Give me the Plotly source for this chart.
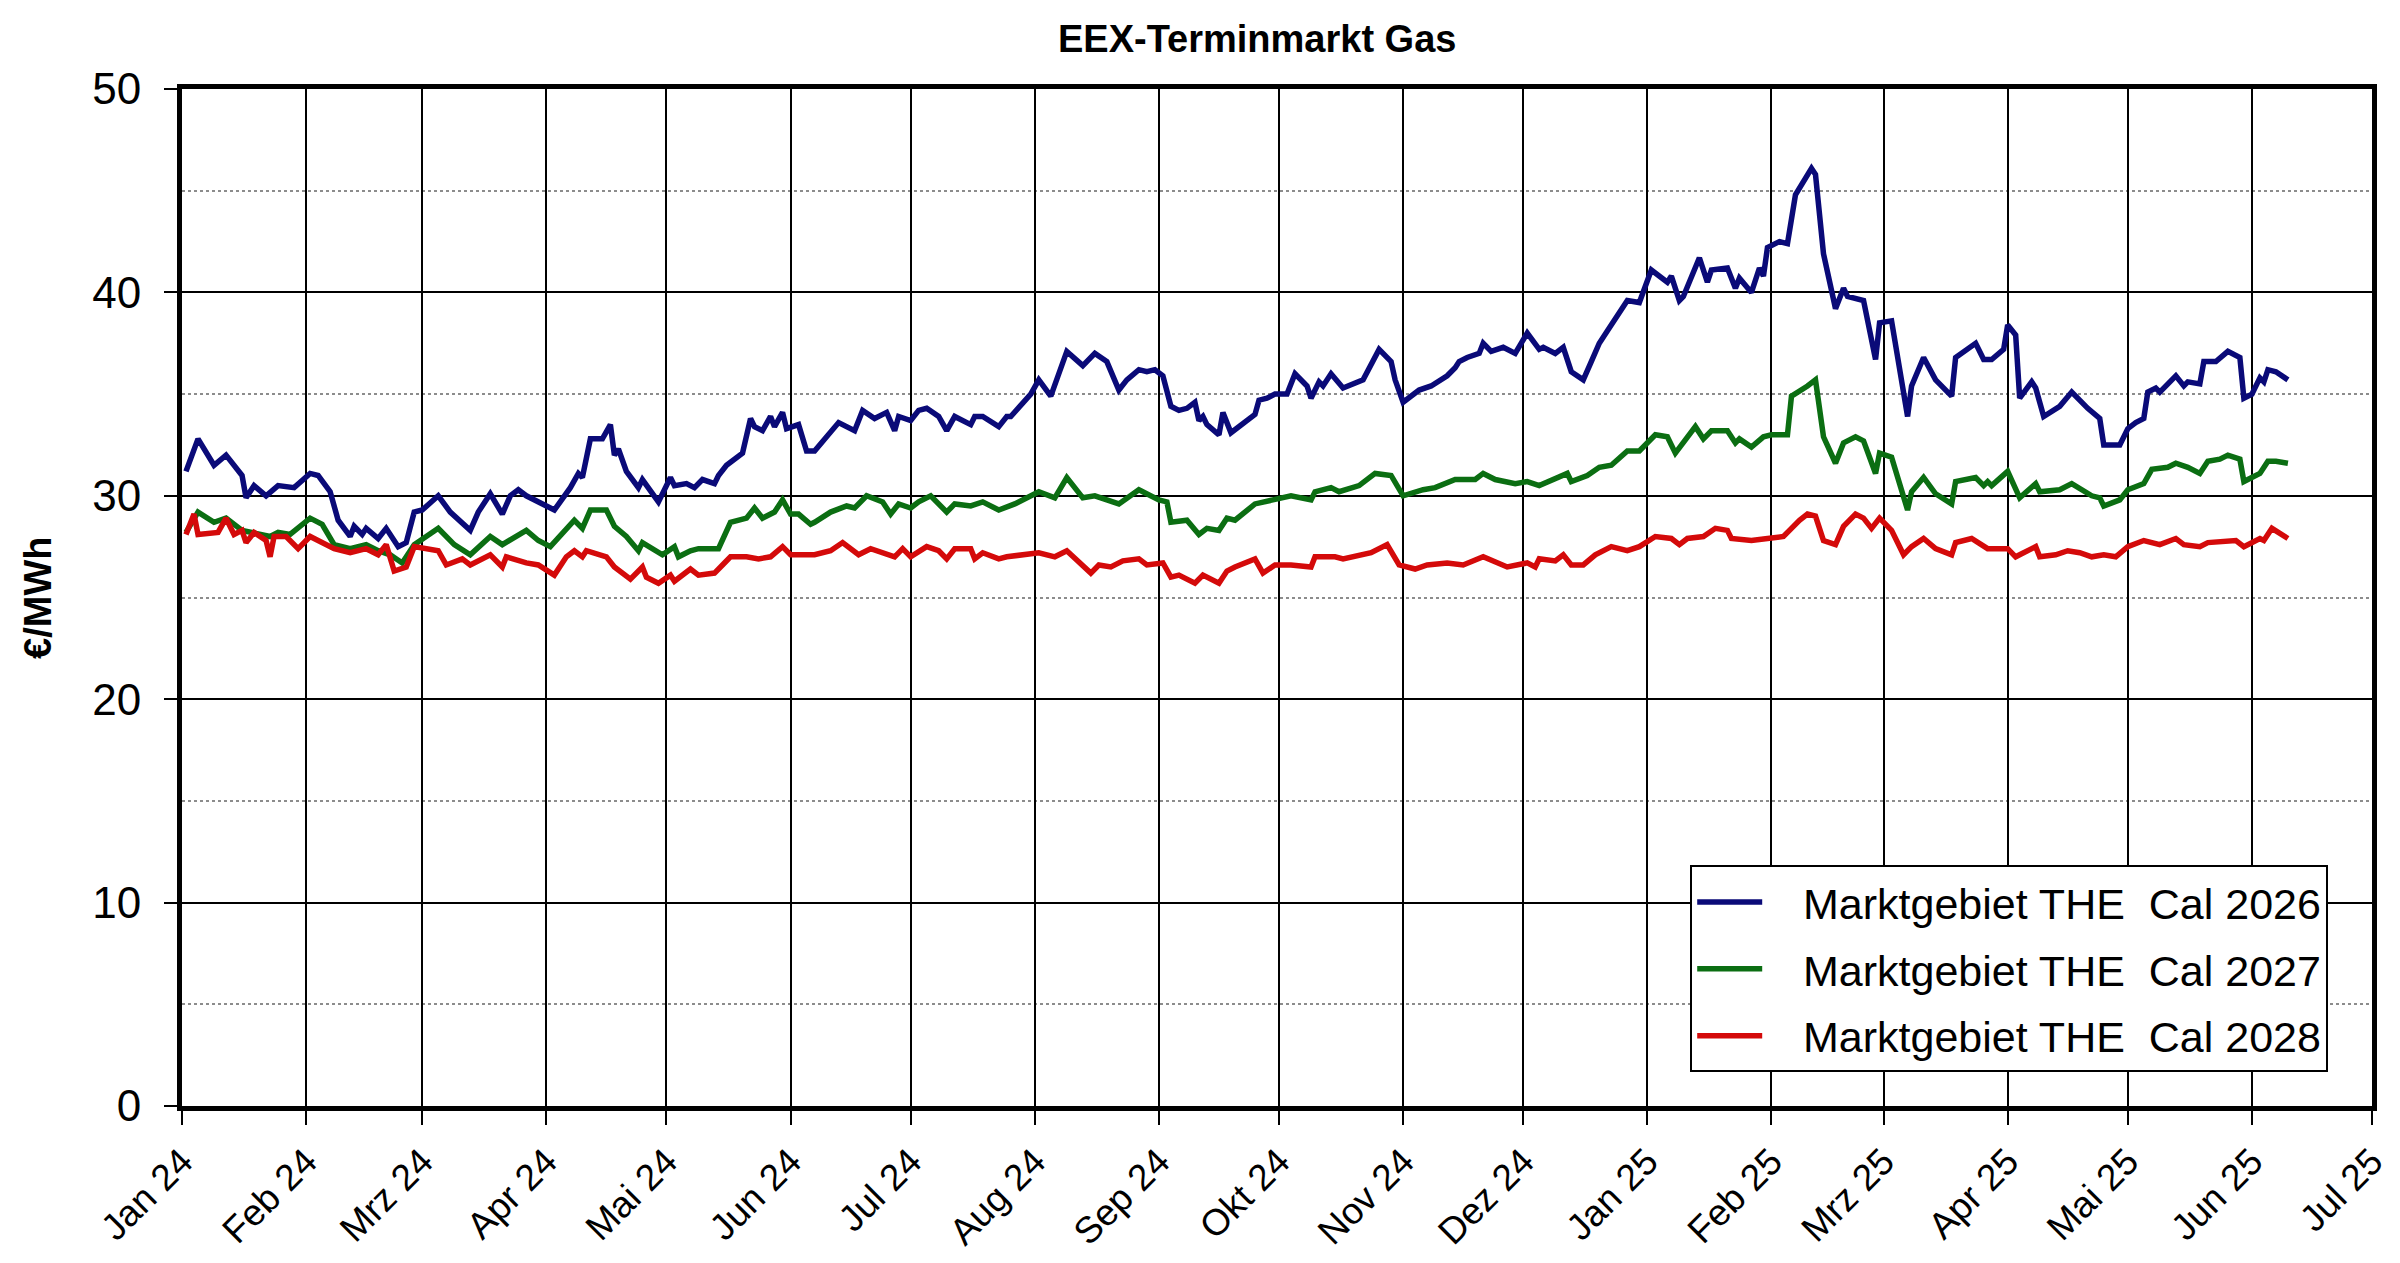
import plotly.graph_objects as go

# monthly axis (German month abbreviations as on the original sheet)
month_starts = ["2024-01-01", "2024-02-01", "2024-03-01", "2024-04-01", "2024-05-01",
                "2024-06-01", "2024-07-01", "2024-08-01", "2024-09-01", "2024-10-01",
                "2024-11-01", "2024-12-01", "2025-01-01", "2025-02-01", "2025-03-01",
                "2025-04-01", "2025-05-01", "2025-06-01", "2025-07-01"]
month_labels = ["Jan 24", "Feb 24", "Mrz 24", "Apr 24", "Mai 24", "Jun 24", "Jul 24",
                "Aug 24", "Sep 24", "Okt 24", "Nov 24", "Dez 24", "Jan 25", "Feb 25",
                "Mrz 25", "Apr 25", "Mai 25", "Jun 25", "Jul 25"]

# Marktgebiet THE Cal 2026 (EUR/MWh)
cal26_dates = [
    "2024-01-02", "2024-01-05", "2024-01-09", "2024-01-12", "2024-01-16", "2024-01-17",
    "2024-01-19", "2024-01-22", "2024-01-25", "2024-01-29", "2024-02-02", "2024-02-04",
    "2024-02-07", "2024-02-09", "2024-02-12", "2024-02-13", "2024-02-15", "2024-02-16",
    "2024-02-19", "2024-02-21", "2024-02-24", "2024-02-26", "2024-02-28", "2024-03-01",
    "2024-03-05", "2024-03-08", "2024-03-13", "2024-03-15", "2024-03-18", "2024-03-21",
    "2024-03-23", "2024-03-25", "2024-03-27", "2024-03-30", "2024-04-03", "2024-04-07",
    "2024-04-09", "2024-04-10", "2024-04-12", "2024-04-15", "2024-04-17", "2024-04-18",
    "2024-04-19", "2024-04-21", "2024-04-24", "2024-04-25", "2024-04-27", "2024-04-29",
    "2024-05-02", "2024-05-03", "2024-05-06", "2024-05-08", "2024-05-10", "2024-05-13",
    "2024-05-14", "2024-05-16", "2024-05-20", "2024-05-22", "2024-05-23", "2024-05-25",
    "2024-05-27", "2024-05-28", "2024-05-30", "2024-05-31", "2024-06-03", "2024-06-05",
    "2024-06-07", "2024-06-10", "2024-06-13", "2024-06-17", "2024-06-19", "2024-06-22",
    "2024-06-25", "2024-06-27", "2024-06-28", "2024-07-01", "2024-07-03", "2024-07-05",
    "2024-07-08", "2024-07-10", "2024-07-12", "2024-07-16", "2024-07-17", "2024-07-19",
    "2024-07-23", "2024-07-25", "2024-07-26", "2024-07-31", "2024-08-02", "2024-08-05",
    "2024-08-09", "2024-08-13", "2024-08-16", "2024-08-19", "2024-08-22", "2024-08-24",
    "2024-08-27", "2024-08-29", "2024-08-31", "2024-09-02", "2024-09-04", "2024-09-06",
    "2024-09-08", "2024-09-10", "2024-09-11", "2024-09-12", "2024-09-13", "2024-09-16",
    "2024-09-17", "2024-09-19", "2024-09-21", "2024-09-25", "2024-09-26", "2024-09-28",
    "2024-09-30", "2024-10-03", "2024-10-05", "2024-10-08", "2024-10-09", "2024-10-11",
    "2024-10-12", "2024-10-14", "2024-10-17", "2024-10-20", "2024-10-22", "2024-10-26",
    "2024-10-29", "2024-10-30", "2024-10-31", "2024-11-01", "2024-11-05", "2024-11-08",
    "2024-11-12", "2024-11-14", "2024-11-15", "2024-11-17", "2024-11-20", "2024-11-21",
    "2024-11-23", "2024-11-26", "2024-11-29", "2024-12-02", "2024-12-05", "2024-12-06",
    "2024-12-09", "2024-12-11", "2024-12-13", "2024-12-16", "2024-12-18", "2024-12-20",
    "2024-12-22", "2024-12-27", "2024-12-30", "2025-01-02", "2025-01-06", "2025-01-07",
    "2025-01-09", "2025-01-10", "2025-01-14", "2025-01-16", "2025-01-17", "2025-01-21",
    "2025-01-23", "2025-01-24", "2025-01-27", "2025-01-29", "2025-01-30", "2025-01-31",
    "2025-02-03", "2025-02-05", "2025-02-07", "2025-02-11", "2025-02-12", "2025-02-14",
    "2025-02-17", "2025-02-19", "2025-02-20", "2025-02-24", "2025-02-27", "2025-02-28",
    "2025-03-03", "2025-03-07", "2025-03-08", "2025-03-11", "2025-03-14", "2025-03-18",
    "2025-03-19", "2025-03-24", "2025-03-26", "2025-03-28", "2025-03-31", "2025-04-01",
    "2025-04-03", "2025-04-04", "2025-04-07", "2025-04-08", "2025-04-10", "2025-04-14",
    "2025-04-17", "2025-04-21", "2025-04-24", "2025-04-25", "2025-04-29", "2025-05-01",
    "2025-05-03", "2025-05-05", "2025-05-06", "2025-05-08", "2025-05-09", "2025-05-13",
    "2025-05-15", "2025-05-16", "2025-05-19", "2025-05-20", "2025-05-23", "2025-05-26",
    "2025-05-29", "2025-05-30", "2025-06-01", "2025-06-03", "2025-06-04", "2025-06-05",
    "2025-06-07", "2025-06-10"]
cal26_vals = [
    31.2, 32.8, 31.5, 32.0, 31.0, 29.9, 30.5, 30.0, 30.5, 30.4, 31.1, 31.0,
    30.2, 28.8, 28.0, 28.5, 28.1, 28.4, 27.9, 28.4, 27.5, 27.7, 29.2, 29.3,
    30.0, 29.2, 28.3, 29.2, 30.1, 29.1, 30.0, 30.3, 30.0, 29.7, 29.3, 30.4,
    31.1, 30.9, 32.8, 32.8, 33.5, 32.0, 32.3, 31.2, 30.4, 30.8, 30.2, 29.7,
    30.9, 30.5, 30.6, 30.4, 30.8, 30.6, 31.0, 31.5, 32.1, 33.8, 33.4, 33.2,
    33.9, 33.4, 34.1, 33.3, 33.5, 32.2, 32.2, 32.9, 33.6, 33.2, 34.2, 33.8,
    34.1, 33.2, 33.9, 33.7, 34.2, 34.3, 33.9, 33.2, 33.9, 33.5, 33.9, 33.9,
    33.4, 33.9, 33.9, 35.0, 35.7, 34.9, 37.1, 36.4, 37.0, 36.6, 35.2, 35.7,
    36.2, 36.1, 36.2, 35.9, 34.4, 34.2, 34.3, 34.6, 33.7, 33.9, 33.5, 33.0,
    34.1, 33.1, 33.4, 34.0, 34.7, 34.8, 35.0, 35.0, 36.0, 35.4, 34.8, 35.6,
    35.4, 36.0, 35.3, 35.5, 35.7, 37.2, 36.6, 35.7, 35.2, 34.6, 35.2, 35.4,
    35.9, 36.3, 36.6, 36.8, 37.0, 37.5, 37.1, 37.3, 37.0, 38.0, 37.2, 37.3,
    37.0, 37.3, 36.1, 35.7, 36.6, 37.5, 38.1, 39.6, 39.5, 41.1, 40.5, 40.8,
    39.6, 39.8, 41.7, 40.5, 41.1, 41.2, 40.2, 40.7, 40.0, 41.2, 40.8, 42.2,
    42.5, 42.4, 44.8, 46.1, 45.8, 41.9, 39.2, 40.2, 39.8, 39.6, 36.7, 38.5,
    38.6, 33.9, 35.4, 36.8, 35.7, 34.9, 36.8, 37.5, 36.7, 36.7, 37.2, 38.4,
    37.9, 34.8, 35.6, 35.3, 33.9, 34.4, 35.1, 34.3, 33.8, 32.5, 32.5, 33.3,
    33.6, 33.8, 35.1, 35.3, 35.1, 35.9, 35.4, 35.6, 35.5, 36.6, 36.6, 37.1,
    36.8, 34.8, 35.0, 35.8, 35.6, 36.2, 36.1, 35.7]

# Marktgebiet THE Cal 2027 (EUR/MWh)
cal27_dates = [
    "2024-01-02", "2024-01-05", "2024-01-09", "2024-01-12", "2024-01-16", "2024-01-20",
    "2024-01-23", "2024-01-25", "2024-01-28", "2024-02-02", "2024-02-05", "2024-02-08",
    "2024-02-12", "2024-02-16", "2024-02-19", "2024-02-22", "2024-02-25", "2024-02-28",
    "2024-03-05", "2024-03-09", "2024-03-13", "2024-03-18", "2024-03-21", "2024-03-27",
    "2024-03-30", "2024-04-02", "2024-04-06", "2024-04-08", "2024-04-10", "2024-04-12",
    "2024-04-16", "2024-04-18", "2024-04-21", "2024-04-24", "2024-04-25", "2024-04-30",
    "2024-05-03", "2024-05-04", "2024-05-07", "2024-05-09", "2024-05-14", "2024-05-17",
    "2024-05-21", "2024-05-23", "2024-05-25", "2024-05-28", "2024-05-30", "2024-06-01",
    "2024-06-03", "2024-06-06", "2024-06-07", "2024-06-11", "2024-06-15", "2024-06-17",
    "2024-06-20", "2024-06-24", "2024-06-26", "2024-06-28", "2024-07-01", "2024-07-03",
    "2024-07-06", "2024-07-10", "2024-07-12", "2024-07-16", "2024-07-19", "2024-07-23",
    "2024-07-27", "2024-08-02", "2024-08-06", "2024-08-09", "2024-08-13", "2024-08-16",
    "2024-08-19", "2024-08-22", "2024-08-27", "2024-09-01", "2024-09-03", "2024-09-04",
    "2024-09-08", "2024-09-11", "2024-09-13", "2024-09-16", "2024-09-18", "2024-09-20",
    "2024-09-25", "2024-09-30", "2024-10-04", "2024-10-09", "2024-10-10", "2024-10-14",
    "2024-10-16", "2024-10-21", "2024-10-25", "2024-10-29", "2024-11-01", "2024-11-06",
    "2024-11-09", "2024-11-14", "2024-11-19", "2024-11-21", "2024-11-24", "2024-11-29",
    "2024-12-02", "2024-12-05", "2024-12-12", "2024-12-13", "2024-12-17", "2024-12-20",
    "2024-12-23", "2024-12-27", "2024-12-30", "2025-01-03", "2025-01-06", "2025-01-08",
    "2025-01-13", "2025-01-15", "2025-01-17", "2025-01-21", "2025-01-23", "2025-01-24",
    "2025-01-27", "2025-01-30", "2025-02-01", "2025-02-05", "2025-02-06", "2025-02-10",
    "2025-02-12", "2025-02-14", "2025-02-17", "2025-02-19", "2025-02-22", "2025-02-24",
    "2025-02-27", "2025-02-28", "2025-03-03", "2025-03-07", "2025-03-08", "2025-03-11",
    "2025-03-14", "2025-03-18", "2025-03-19", "2025-03-24", "2025-03-26", "2025-03-27",
    "2025-03-28", "2025-04-01", "2025-04-04", "2025-04-08", "2025-04-09", "2025-04-14",
    "2025-04-17", "2025-04-22", "2025-04-24", "2025-04-25", "2025-04-29", "2025-05-01",
    "2025-05-05", "2025-05-07", "2025-05-11", "2025-05-13", "2025-05-16", "2025-05-19",
    "2025-05-21", "2025-05-24", "2025-05-26", "2025-05-29", "2025-05-30", "2025-06-03",
    "2025-06-05", "2025-06-07", "2025-06-10"]
cal27_vals = [
    28.2, 29.2, 28.7, 28.9, 28.3, 28.1, 28.0, 28.2, 28.1, 28.9, 28.6, 27.6,
    27.4, 27.6, 27.3, 27.1, 26.7, 27.6, 28.4, 27.6, 27.1, 28.0, 27.6, 28.3,
    27.8, 27.5, 28.4, 28.8, 28.4, 29.3, 29.3, 28.5, 28.0, 27.3, 27.7, 27.1,
    27.5, 27.0, 27.3, 27.4, 27.4, 28.7, 28.9, 29.4, 28.9, 29.2, 29.8, 29.1,
    29.1, 28.6, 28.7, 29.2, 29.5, 29.4, 30.0, 29.7, 29.1, 29.6, 29.4, 29.7,
    30.0, 29.2, 29.6, 29.5, 29.7, 29.3, 29.6, 30.2, 29.9, 30.9, 29.9, 30.0,
    29.8, 29.6, 30.3, 29.8, 29.7, 28.7, 28.8, 28.1, 28.4, 28.3, 28.9, 28.8,
    29.6, 29.8, 30.0, 29.8, 30.2, 30.4, 30.2, 30.5, 31.1, 31.0, 30.0, 30.3,
    30.4, 30.8, 30.8, 31.1, 30.8, 30.6, 30.7, 30.5, 31.1, 30.7, 31.0, 31.4,
    31.5, 32.2, 32.2, 33.0, 32.9, 32.1, 33.4, 32.8, 33.2, 33.2, 32.6, 32.8,
    32.4, 32.9, 33.0, 33.0, 34.9, 35.4, 35.7, 32.9, 31.6, 32.6, 32.9, 32.7,
    31.1, 32.1, 31.9, 29.3, 30.2, 30.9, 30.1, 29.6, 30.7, 30.9, 30.5, 30.7,
    30.5, 31.2, 29.9, 30.6, 30.2, 30.3, 30.6, 30.0, 29.9, 29.5, 29.8, 30.3,
    30.6, 31.3, 31.4, 31.6, 31.4, 31.1, 31.7, 31.8, 32.0, 31.8, 30.7, 31.1,
    31.7, 31.7, 31.6]

# Marktgebiet THE Cal 2028 (EUR/MWh)
cal28_dates = [
    "2024-01-02", "2024-01-04", "2024-01-05", "2024-01-10", "2024-01-12", "2024-01-14",
    "2024-01-16", "2024-01-17", "2024-01-19", "2024-01-22", "2024-01-23", "2024-01-24",
    "2024-01-27", "2024-01-30", "2024-02-02", "2024-02-05", "2024-02-08", "2024-02-12",
    "2024-02-16", "2024-02-19", "2024-02-21", "2024-02-23", "2024-02-26", "2024-02-28",
    "2024-03-05", "2024-03-07", "2024-03-11", "2024-03-13", "2024-03-18", "2024-03-21",
    "2024-03-22", "2024-03-27", "2024-03-30", "2024-04-03", "2024-04-06", "2024-04-08",
    "2024-04-10", "2024-04-11", "2024-04-16", "2024-04-18", "2024-04-22", "2024-04-25",
    "2024-04-26", "2024-04-29", "2024-05-02", "2024-05-03", "2024-05-07", "2024-05-09",
    "2024-05-13", "2024-05-15", "2024-05-17", "2024-05-21", "2024-05-24", "2024-05-27",
    "2024-05-30", "2024-06-01", "2024-06-07", "2024-06-11", "2024-06-14", "2024-06-18",
    "2024-06-21", "2024-06-27", "2024-06-29", "2024-07-01", "2024-07-05", "2024-07-08",
    "2024-07-10", "2024-07-12", "2024-07-16", "2024-07-17", "2024-07-19", "2024-07-23",
    "2024-07-25", "2024-08-02", "2024-08-06", "2024-08-09", "2024-08-13", "2024-08-15",
    "2024-08-17", "2024-08-20", "2024-08-23", "2024-08-27", "2024-08-29", "2024-09-02",
    "2024-09-04", "2024-09-06", "2024-09-10", "2024-09-12", "2024-09-16", "2024-09-18",
    "2024-09-20", "2024-09-25", "2024-09-27", "2024-09-30", "2024-10-04", "2024-10-09",
    "2024-10-10", "2024-10-15", "2024-10-17", "2024-10-24", "2024-10-28", "2024-10-31",
    "2024-11-04", "2024-11-07", "2024-11-12", "2024-11-16", "2024-11-21", "2024-11-27",
    "2024-12-02", "2024-12-04", "2024-12-05", "2024-12-09", "2024-12-11", "2024-12-13",
    "2024-12-16", "2024-12-19", "2024-12-23", "2024-12-27", "2024-12-30", "2025-01-03",
    "2025-01-07", "2025-01-09", "2025-01-11", "2025-01-15", "2025-01-18", "2025-01-21",
    "2025-01-22", "2025-01-27", "2025-01-31", "2025-02-04", "2025-02-06", "2025-02-08",
    "2025-02-10", "2025-02-12", "2025-02-14", "2025-02-17", "2025-02-19", "2025-02-22",
    "2025-02-24", "2025-02-26", "2025-02-28", "2025-03-03", "2025-03-06", "2025-03-08",
    "2025-03-11", "2025-03-14", "2025-03-18", "2025-03-19", "2025-03-23", "2025-03-26",
    "2025-03-27", "2025-04-01", "2025-04-03", "2025-04-08", "2025-04-09", "2025-04-13",
    "2025-04-16", "2025-04-19", "2025-04-22", "2025-04-25", "2025-04-28", "2025-05-01",
    "2025-05-05", "2025-05-09", "2025-05-13", "2025-05-15", "2025-05-19", "2025-05-21",
    "2025-05-28", "2025-05-30", "2025-06-03", "2025-06-04", "2025-06-06", "2025-06-10"]
cal28_vals = [
    28.1, 29.1, 28.1, 28.2, 28.9, 28.1, 28.3, 27.7, 28.2, 27.8, 27.0, 28.0,
    28.0, 27.4, 28.0, 27.7, 27.4, 27.2, 27.4, 27.1, 27.6, 26.3, 26.5, 27.5,
    27.3, 26.6, 26.9, 26.6, 27.1, 26.5, 27.0, 26.7, 26.6, 26.1, 27.0, 27.3,
    27.0, 27.3, 27.0, 26.5, 25.9, 26.5, 26.0, 25.7, 26.1, 25.8, 26.4, 26.1,
    26.2, 26.6, 27.0, 27.0, 26.9, 27.0, 27.5, 27.1, 27.1, 27.3, 27.7, 27.1,
    27.4, 27.0, 27.4, 27.0, 27.5, 27.3, 26.9, 27.4, 27.4, 26.9, 27.2, 26.9,
    27.0, 27.2, 27.0, 27.3, 26.6, 26.2, 26.6, 26.5, 26.8, 26.9, 26.6, 26.7,
    26.0, 26.1, 25.7, 26.1, 25.7, 26.3, 26.5, 26.9, 26.2, 26.6, 26.6, 26.5,
    27.0, 27.0, 26.9, 27.2, 27.6, 26.6, 26.4, 26.6, 26.7, 26.6, 27.0, 26.5,
    26.7, 26.5, 26.9, 26.8, 27.1, 26.6, 26.6, 27.1, 27.5, 27.3, 27.5, 28.0,
    27.9, 27.6, 27.9, 28.0, 28.4, 28.3, 27.9, 27.8, 27.9, 28.0, 28.4, 28.8,
    29.1, 29.0, 27.8, 27.6, 28.5, 29.1, 28.9, 28.4, 28.9, 28.3, 27.1, 27.5,
    27.9, 27.4, 27.1, 27.7, 27.9, 27.5, 27.4, 27.4, 27.0, 27.5, 27.0, 27.1,
    27.3, 27.2, 27.0, 27.1, 27.0, 27.5, 27.8, 27.6, 27.9, 27.6, 27.5, 27.7,
    27.8, 27.5, 27.9, 27.8, 28.4, 27.9]

# leading blanks give the gap between legend line and label seen in the original
series_names = ["\u00a0\u00a0\u00a0Marktgebiet THE\u00a0 Cal 2026",
                "\u00a0\u00a0\u00a0Marktgebiet THE\u00a0 Cal 2027",
                "\u00a0\u00a0\u00a0Marktgebiet THE\u00a0 Cal 2028"]
series_colors = ["#0a0a78", "#0b6e12", "#d40a0a"]

fig = go.Figure()
for name, xs, ys, col in zip(series_names,
                             [cal26_dates, cal27_dates, cal28_dates],
                             [cal26_vals, cal27_vals, cal28_vals],
                             series_colors):
    fig.add_trace(go.Scatter(x=xs, y=ys, mode="lines", name=name, legendgroup=name,
                             line={'color': col, 'width': 5.5}))

base_font = {'family': "Arial, Liberation Sans, sans-serif", 'size': 38, 'color': "black"}

# page has an 8px body margin, so the figure is a bit smaller than the window
fig.update_layout(
    width=2384, height=1247,
    margin={'l': 174, 'r': 20, 't': 81, 'b': 149},
    paper_bgcolor="white", plot_bgcolor="white",
    font=base_font,
    title={'text': "<b>EEX-Terminmarkt Gas</b>", 'xref': "container", 'x': 0.524,
           'xanchor': "center", 'y': 0.975, 'yanchor': "middle",
           'font': {'size': 38, 'color': "black"}},
    showlegend=True,
    legend={'x': 0.980, 'y': 0.033, 'xanchor': "right", 'yanchor': "bottom",
            'bgcolor': "white", 'bordercolor': "black", 'borderwidth': 2,
            'font': {'size': 43}, 'tracegroupgap': 8, 'itemwidth': 65},
)

fig.update_xaxes(
    type="date", range=["2024-01-01", "2025-07-01"], automargin=False,
    tickmode="array", tickvals=month_starts, ticktext=month_labels, tickangle=-45,
    ticklabeloverflow="allow",
    showgrid=True, gridcolor="black", gridwidth=1.5,
    showline=True, linecolor="black", linewidth=5, mirror=True,
    ticks="outside", ticklen=14, tickwidth=1.5, tickcolor="black",
    tickfont={'size': 37},
)
fig.update_yaxes(
    range=[0, 50], dtick=10, tick0=0, automargin=False,
    showgrid=True, gridcolor="black", gridwidth=1.5, zeroline=False,
    minor={'dtick': 5, 'showgrid': True, 'gridcolor': "#8c8c8c", 'griddash': "dot",
           'gridwidth': 2},
    showline=True, linecolor="black", linewidth=5, mirror=True,
    ticks="outside", ticklen=13, tickwidth=1.5, tickcolor="black",
    ticklabelstandoff=14, tickfont={'size': 44},
)

fig.add_annotation(text="<b>€/MWh</b>", xref="paper", yref="paper", x=-0.066, y=0.5,
                   xanchor="center", yanchor="middle", textangle=-90, showarrow=False,
                   font={'size': 38, 'color': "black"})

fig.write_html("out.html")
